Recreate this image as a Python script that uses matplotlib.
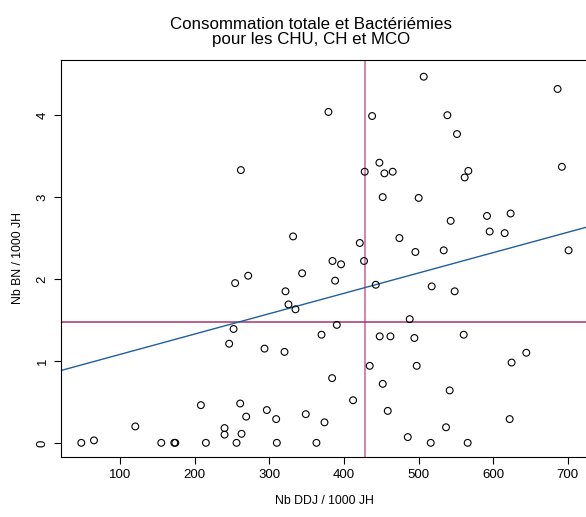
import numpy as np
import matplotlib
matplotlib.use("Agg")
import matplotlib.pyplot as plt

# Nb DDJ / 1000 JH
ddj = [261.7, 331.7, 343.8, 271.5, 254.0, 321.5, 325.5, 334.9,
       506.8, 686.2, 379.1, 437.6, 538.5, 551.4, 447.4, 427.7, 454.1, 465.2,
       692.0, 566.6, 561.7, 451.8, 500.0, 591.6, 623.3, 542.9, 595.2, 615.3,
       474.2, 421.1, 701.0, 495.6, 533.6, 384.5, 396.0, 426.8, 388.0, 442.5,
       517.5, 548.3,
       251.9, 246.0, 293.4, 320.2, 369.8, 208.1, 260.8, 120.2, 296.5, 268.8,
       309.0, 348.7, 239.8, 239.8, 262.6, 47.8, 64.8, 155.0, 172.5, 173.8,
       214.8, 255.9, 309.9, 363.0,
       488.0, 390.3, 447.8, 462.2, 494.3, 560.4, 644.3, 624.6, 434.4, 497.4,
       384.0, 451.9, 541.6, 412.1, 458.6, 373.8, 622.0, 536.7, 485.4, 516.2,
       565.7]
# Nb BN / 1000 JH
bn = [3.33, 2.52, 2.07, 2.04, 1.95, 1.85, 1.69, 1.63,
      4.47, 4.32, 4.04, 3.99, 4.00, 3.77, 3.42, 3.31, 3.29, 3.31,
      3.37, 3.32, 3.24, 3.00, 2.99, 2.77, 2.80, 2.71, 2.58, 2.56,
      2.50, 2.44, 2.35, 2.33, 2.35, 2.22, 2.18, 2.22, 1.98, 1.93,
      1.91, 1.85,
      1.39, 1.21, 1.15, 1.11, 1.32, 0.46, 0.48, 0.20, 0.40, 0.32,
      0.29, 0.35, 0.18, 0.10, 0.11, 0.00, 0.03, 0.00, 0.00, 0.00,
      0.00, 0.00, 0.00, 0.00,
      1.51, 1.44, 1.30, 1.30, 1.28, 1.32, 1.10, 0.98, 0.94, 0.94,
      0.79, 0.72, 0.64, 0.52, 0.39, 0.25, 0.29, 0.19, 0.07, 0.00,
      0.00]

moy_ddj = 428.0
moy_bn = 1.47
reg_a = 0.832      # ordonnee a l'origine
reg_b = 0.002484   # pente

plt.rcParams['font.family'] = ['Liberation Sans', 'DejaVu Sans']

fig = plt.figure(figsize=(5.86, 5.17), dpi=100)
W, H = 586, 517
ax = fig.add_axes([61 / W, 60 / H, (588 - 61) / W, (457 - 60) / H])

ax.scatter(ddj, bn, s=24, facecolors='none', edgecolors='black', linewidths=0.8, zorder=3)
ax.axvline(moy_ddj, color='#c2639a', lw=1.1)
ax.axhline(moy_bn, color='#a8336e', lw=1.1)
ax.axline((0, reg_a), slope=reg_b, color='#1f5fa0', lw=1.0)

ax.set_xlim(20.6, 727)
ax.set_ylim(-0.173, 4.674)
ax.set_xticks([100, 200, 300, 400, 500, 600, 700])
ax.set_yticks([0, 1, 2, 3, 4])
ax.tick_params(direction='out', length=5, width=0.8, labelsize=9.5, pad=4)
for lab in ax.get_yticklabels():
    lab.set_rotation(90)
    lab.set_va('center')
for sp in ax.spines.values():
    sp.set_linewidth(0.8)

ax.set_xlabel('Nb DDJ / 1000 JH', fontsize=8.8, labelpad=10)
ax.set_ylabel('Nb BN / 1000 JH', fontsize=8.8, labelpad=9)
fig.text(311 / W, 1 - 32 / H, 'Consommation totale et Bactériémies\npour les CHU, CH et MCO',
         ha='center', va='center', fontsize=12.2, linespacing=1.08)

fig.savefig('out.png', dpi=100)
